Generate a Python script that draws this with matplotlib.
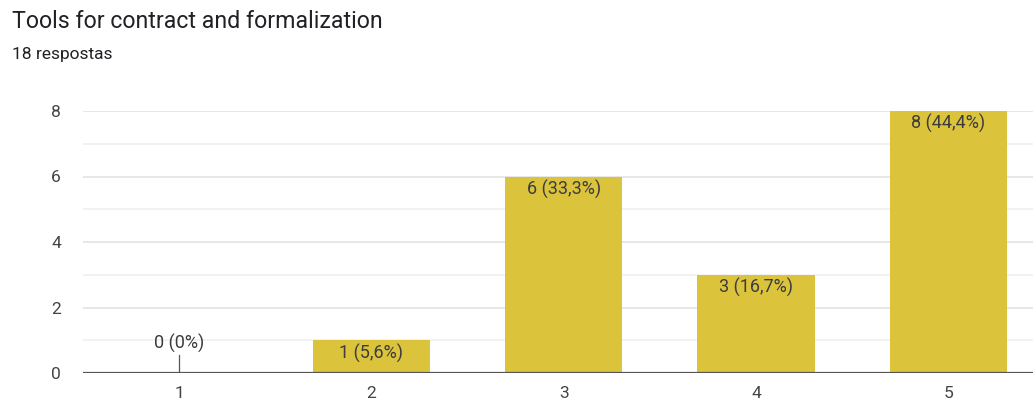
import matplotlib
matplotlib.use("Agg")
import matplotlib.pyplot as plt

categories = ["1", "2", "3", "4", "5"]
counts = [0, 1, 6, 3, 8]
labels = ["0 (0%)", "1 (5,6%)", "6 (33,3%)", "3 (16,7%)", "8 (44,4%)"]
title = "Tools for contract and formalization"
subtitle = "18 respostas"

plt.rcParams['font.family'] = ['Roboto', 'DejaVu Sans']

W, H = 1033, 401
fig = plt.figure(figsize=(W/100, H/100), dpi=100)
ax = fig.add_axes([83/W, (H-373)/H, (W-83)/W, (373-111)/H])

x = list(range(1, len(categories)+1))
bar_color = '#dbc43c'
ax.bar(x, counts, width=0.61, color=bar_color, zorder=3)

ax.set_xlim(0.5, 5.44)
ax.set_ylim(0, 8)

for v in range(1, 9):
    ax.axhline(v, color='#e3e3e3' if v % 2 == 0 else '#f0f0f0', lw=1.2, zorder=1)
ax.axhline(0, color='#555555', lw=1.6, zorder=4)

for xi, c, lab in zip(x, counts, labels):
    if c == 0:
        ax.plot([xi, xi], [0, 0.55], color='#555555', lw=0.9, zorder=4)
        ax.text(xi, 0.6, lab, ha='center', va='bottom', fontsize=13, color='#3c3c3c', zorder=5)
    else:
        ax.text(xi, c - 0.1, lab, ha='center', va='top', fontsize=13, color='#3c3c3c', zorder=5)

ax.set_xticks(x)
ax.set_xticklabels(categories)
ax.set_yticks([0, 2, 4, 6, 8])
ax.tick_params(axis='both', length=0, labelsize=12.5, labelcolor='#444444')
ax.tick_params(axis='x', pad=9)
ax.tick_params(axis='y', pad=16)
for s in ax.spines.values():
    s.set_visible(False)

fig.text(12/W, 1 - 22/H, title, fontsize=16.7, color='#202124', va='center', ha='left')
fig.text(12/W, 1 - 55/H, subtitle, fontsize=12.5, color='#202124', va='center', ha='left')

fig.savefig("out.png", dpi=100, facecolor='white')
